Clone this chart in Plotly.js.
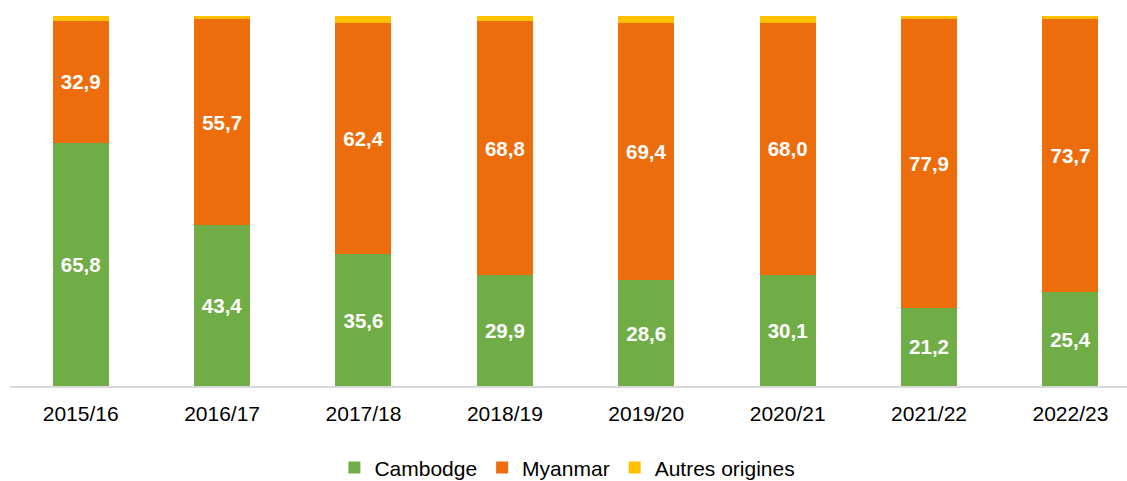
<!DOCTYPE html>
<html><head><meta charset="utf-8">
<script src="https://cdn.plot.ly/plotly-3.0.1.min.js"></script>
<style>body{margin:0;background:#fff}#c{width:1127px;height:481px}</style>
</head><body><div id="c"></div>
<script>
const categories = ["2015/16","2016/17","2017/18","2018/19","2019/20","2020/21","2021/22","2022/23"];
const cambodge = [65.8,43.4,35.6,29.9,28.6,30.1,21.2,25.4];
const myanmar = [32.9,55.7,62.4,68.8,69.4,68.0,77.9,73.7];
const autres = [1.3,0.9,2.0,1.3,2.0,1.9,0.9,0.9];
const fmt = v => v.toFixed(1).replace('.', ',');
const labelFont = {family:'Liberation Sans, Arial, sans-serif', size:20.5, color:'#ffffff', weight:'bold'};
function tr(name, vals, color, showText){
  return {type:'bar', name:name, x:categories, y:vals, marker:{color:color},
    text: showText ? vals.map(fmt) : undefined,
    texttemplate: showText ? '<b>%{text}</b>' : undefined,
    textposition: showText ? 'inside' : 'none', insidetextanchor:'middle',
    textangle:0, constraintext:'none', textfont:labelFont, hoverinfo:'none'};
}
const data = [
  tr('Cambodge', cambodge, '#70AD47', true),
  tr('Myanmar', myanmar, '#ED6D0C', true),
  tr('Autres origines', autres, '#FFC000', false)
];
const layout = {
  width:1127, height:481, barmode:'stack', bargap:0.604,
  margin:{l:10, r:0, t:16, b:95},
  paper_bgcolor:'#fff', plot_bgcolor:'#fff',
  font:{family:'Liberation Sans, Arial, sans-serif', color:'#000'},
  xaxis:{range:[-0.5,7.4], showline:true, linecolor:'#d9d9d9', linewidth:2, ticks:'',
    tickfont:{size:21, color:'#000'}, ticklabelstandoff:8, fixedrange:true, automargin:false},
  yaxis:{range:[0,100], visible:false, showgrid:false, zeroline:false},
  showlegend:true,
  legend:{orientation:'h', x:0.499, xanchor:'center', yref:'container', y:0.07, yanchor:'top',
    font:{size:21, color:'#000'}, traceorder:'normal', itemwidth:30, tracegroupgap:0},
};
Plotly.newPlot('c', data, layout, {displayModeBar:false, staticPlot:true});
</script></body></html>
